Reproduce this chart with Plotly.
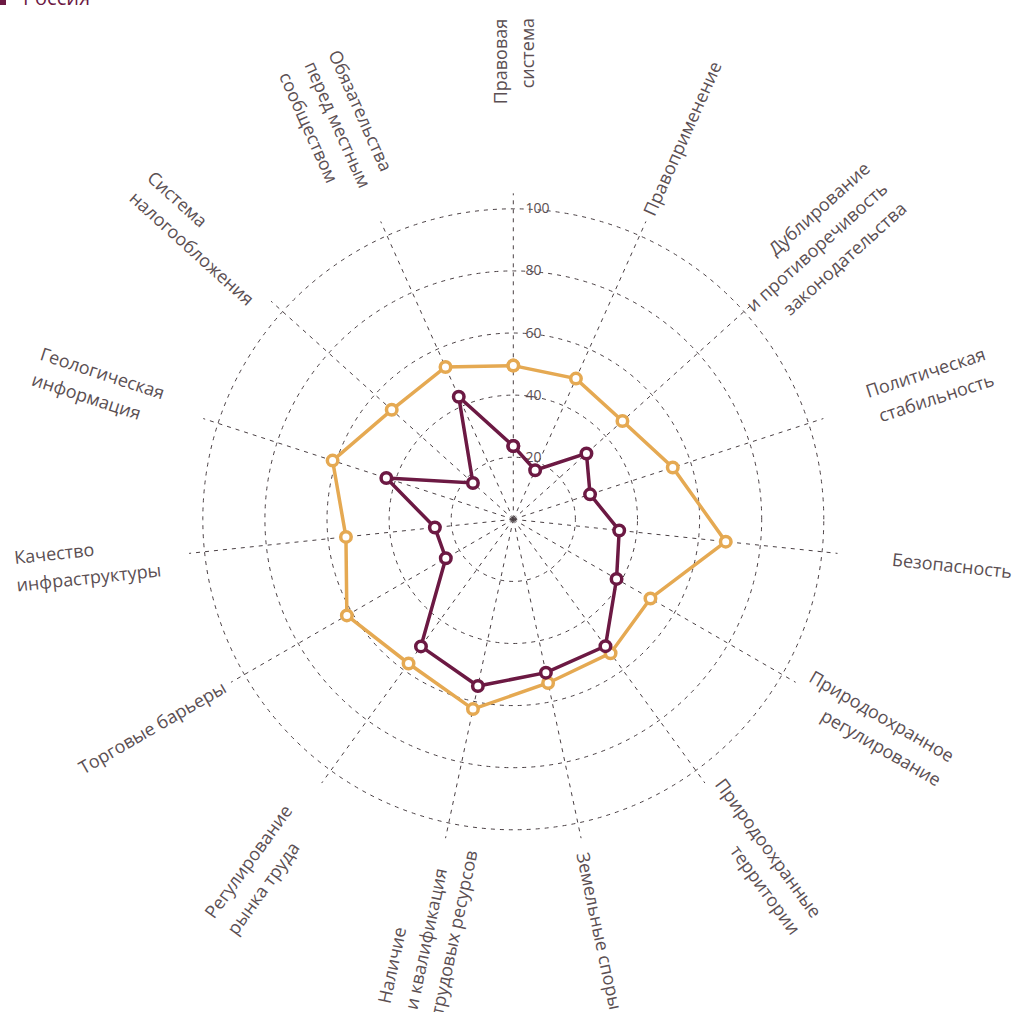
import math
import plotly.graph_objects as go

# ---------------- data ----------------
categories = [
    "Правовая система",
    "Правоприменение",
    "Дублирование и противоречивость законодательства",
    "Политическая стабильность",
    "Безопасность",
    "Природоохранное регулирование",
    "Природоохранные территории",
    "Земельные споры",
    "Наличие и квалификация трудовых ресурсов",
    "Регулирование рынка труда",
    "Торговые барьеры",
    "Качество инфраструктуры",
    "Геологическая информация",
    "Система налогообложения",
    "Обязательства перед местным сообществом",
]
label_lines = [
    ["Правовая", "система"],
    ["Правоприменение"],
    ["Дублирование", "и противоречивость", "законодательства"],
    ["Политическая", "стабильность"],
    ["Безопасность"],
    ["Природоохранное", "регулирование"],
    ["Природоохранные", "территории"],
    ["Земельные споры"],
    ["Наличие", "и квалификация", "трудовых ресурсов"],
    ["Регулирование", "рынка труда"],
    ["Торговые барьеры"],
    ["Качество", "инфраструктуры"],
    ["Геологическая", "информация"],
    ["Система", "налогообложения"],
    ["Обязательства", "перед местным", "сообществом"],
]
benchmark = [49.5, 49.6, 47.3, 54.0, 68.8, 51.0, 53.3, 53.9, 62.5, 57.4, 61.9, 54.2, 61.2, 52.7, 53.7]
russia = [23.6, 17.3, 31.7, 26.0, 34.3, 38.4, 50.5, 50.5, 54.9, 50.6, 25.1, 25.4, 43.0, 17.5, 43.2]
radial_ticks = [20, 40, 60, 80, 100]
series_names = ["Ориентир", "Россия"]

# ---------------- style ----------------
W, H = 1016, 1012
GOLD = "#E5A952"
MAROON = "#6C1943"
GRID = "#4a4044"
TXT = "#5b4f53"
FONT = "Open Sans"
LABEL_SIZE = 18
LINE_GAP = 27.0
R_MAX = 105
LABEL_R = 161.6  # far end of category labels, in radial units

CX, CY, RPX = 513.3, 519.3, 326.0
dom_x = [(CX - RPX) / W, (CX + RPX) / W]
dom_y = [1 - (CY + RPX) / H, 1 - (CY - RPX) / H]

fig = go.Figure()
for name, vals, col in [(series_names[0], benchmark, GOLD), (series_names[1], russia, MAROON)]:
    fig.add_trace(go.Scatterpolar(
        r=vals + vals[:1],
        theta=categories + categories[:1],
        mode="lines+markers",
        name=name,
        showlegend=False,
        line=dict(color=col, width=3.5),
        marker=dict(size=10.5, color="white", line=dict(color=col, width=3.5)),
        cliponaxis=False,
    ))

# ---------------- category labels ----------------
annotations = []
px_per_unit = RPX / R_MAX
h_line = 1.36 * LABEL_SIZE
n_cat = len(categories)
for i, lines in enumerate(label_lines):
    ang = i * 360.0 / n_cat
    th = math.radians(ang)
    d = (math.sin(th), -math.cos(th))
    right = ang < 180 - 1e-9
    s = 1 if right else -1
    t_deg = ang - 90 if right else ang - 270
    t = math.radians(t_deg)
    c, sn = math.cos(t), math.sin(t)
    nvec = (-sn, c)
    N = len(lines)
    Rf = LABEL_R * px_per_unit
    for k, line in enumerate(lines):
        off = (k - (N - 1) / 2) * LINE_GAP
        Fx = CX + Rf * d[0] + off * nvec[0]
        Fy = CY + Rf * d[1] + off * nvec[1]
        if abs(c) < 1e-6:
            xa, axp = "center", Fx
        elif s * c > 0:
            xa, axp = "right", Fx + h_line / 2 * abs(sn)
        else:
            xa, axp = "left", Fx - h_line / 2 * abs(sn)
        if abs(sn) < 1e-6:
            ya, ayp = "middle", Fy
        elif s * sn > 0:
            ya, ayp = "bottom", Fy + h_line / 2 * abs(c)
        else:
            ya, ayp = "top", Fy - h_line / 2 * abs(c)
        annotations.append(dict(
            text=line, x=axp / W, y=1 - ayp / H, xref="paper", yref="paper",
            xanchor=xa, yanchor=ya, textangle=t_deg, showarrow=False,
            borderpad=0, font=dict(family=FONT, size=LABEL_SIZE, color=TXT),
        ))

# legend (partially cut at top, as in reference)
annotations.append(dict(
    text=series_names[1], x=22 / W, y=1 - 12 / H, xref="paper", yref="paper",
    xanchor="left", yanchor="bottom", showarrow=False, borderpad=0,
    font=dict(family=FONT, size=20, color=MAROON),
))
shapes = [dict(type="rect", xref="paper", yref="paper", x0=0, x1=6 / W,
               y0=1 - 5 / H, y1=1 + 2 / H, fillcolor=MAROON, line=dict(width=0))]

fig.update_layout(
    width=W, height=H,
    margin=dict(l=0, r=0, t=0, b=0, autoexpand=False),
    paper_bgcolor="white", plot_bgcolor="white",
    font=dict(family=FONT, color=TXT),
    showlegend=False,
    annotations=annotations,
    shapes=shapes,
    polar=dict(
        domain=dict(x=dom_x, y=dom_y),
        bgcolor="rgba(0,0,0,0)",
        radialaxis=dict(
            range=[0, R_MAX], tickvals=radial_ticks, angle=90, tickangle=90,
            showline=False, gridcolor=GRID, gridwidth=1, griddash="4px,5px",
            ticks="outside", ticklen=9, tickcolor="rgba(0,0,0,0)",
            tickfont=dict(family=FONT, size=14, color=TXT), layer="below traces",
        ),
        angularaxis=dict(
            type="category", categoryarray=categories, direction="clockwise", rotation=90,
            showline=False, showticklabels=False, ticks="",
            gridcolor=GRID, gridwidth=1, griddash="4px,5px", layer="below traces",
        ),
    ),
)

fig.write_html(
    "out.html",
    config={"displayModeBar": False},
    post_script="document.body.style.margin='0';document.body.style.overflow='hidden';",
)
